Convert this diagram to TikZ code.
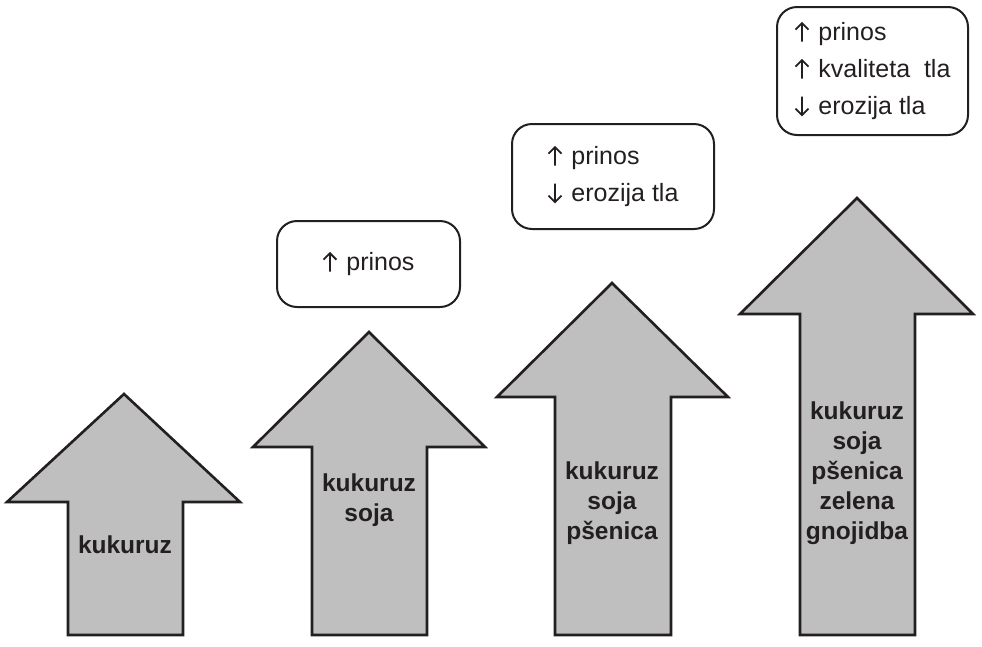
\documentclass[tikz,border=0pt]{standalone}
\usepackage{fontspec}
\setmainfont{Liberation Sans}
\definecolor{arrowgray}{RGB}{191,191,191}
\definecolor{inkblack}{RGB}{35,31,32}
\newcommand{\upmark}{\tikz[baseline=0pt,x=1pt,y=1pt,sharp corners]\draw[line width=1.9pt,inkblack,line join=miter,sharp corners] (0,-1) -- (0,17.5) (-6.5,11) -- (0,17.5) -- (6.5,11);\hspace{9pt}}
\newcommand{\downmark}{\tikz[baseline=0pt,x=1pt,y=1pt,sharp corners]\draw[line width=1.9pt,inkblack,line join=miter,sharp corners] (0,18) -- (0,-0.5) (-6.5,6) -- (0,-0.5) -- (6.5,6);\hspace{9pt}}

\tikzset{
  uparrow/.style={draw=inkblack,fill=arrowgray,line width=2.6pt,line join=miter},
  croplabel/.style={align=center,text=inkblack,font=\fontsize{24.5}{30}\selectfont\bfseries,inner sep=0pt},
  effectbox/.style={draw=inkblack,line width=2pt,rounded corners=20pt,align=left,text=inkblack,
    font=\fontsize{25}{37}\selectfont,inner sep=0pt}
}

\begin{document}
\begin{tikzpicture}[x=1pt,y=-1pt]
   \useasboundingbox (0,0) rectangle (982,646);

   % arrows
   \draw[uparrow] (68,635) -- (68,502) -- (7,502) -- (124,394) -- (240,502) -- (183,502) -- (183,635) -- cycle;
   \draw[uparrow] (312,635) -- (312,447) -- (253,447) -- (369,332) -- (485,447) -- (427,447) -- (427,635) -- cycle;
   \draw[uparrow] (555,635) -- (555,397) -- (497,397) -- (612,283) -- (728,397) -- (671,397) -- (671,635) -- cycle;
   \draw[uparrow] (800,635) -- (800,314) -- (740,314) -- (857,198) -- (973,314) -- (915,314) -- (915,635) -- cycle;

   % labels in the arrows
   \node[croplabel] (crop1) at (125,545) {kukuruz};
   \node[croplabel] (crop2) at (369,500) {kukuruz\\soja};
   \node[croplabel] (crop3) at (612,503) {kukuruz\\soja\\pšenica};
   \node[croplabel] (crop4) at (857,473) {kukuruz\\soja\\pšenica\\zelena\\gnojidba};

   % effect boxes
   \node[effectbox,minimum width=183pt,minimum height=86pt] (effect2) at (368.5,264) {\upmark prinos};
   \node[effectbox,minimum width=202pt,minimum height=105pt] (effect3) at (613,176.5) {\upmark prinos\\\downmark erozija tla};
   \node[effectbox,minimum width=191pt,minimum height=128pt] (effect4) at (872.5,71) {\upmark prinos\\\upmark kvaliteta\ \ tla\\\downmark erozija tla};
\end{tikzpicture}
\end{document}
